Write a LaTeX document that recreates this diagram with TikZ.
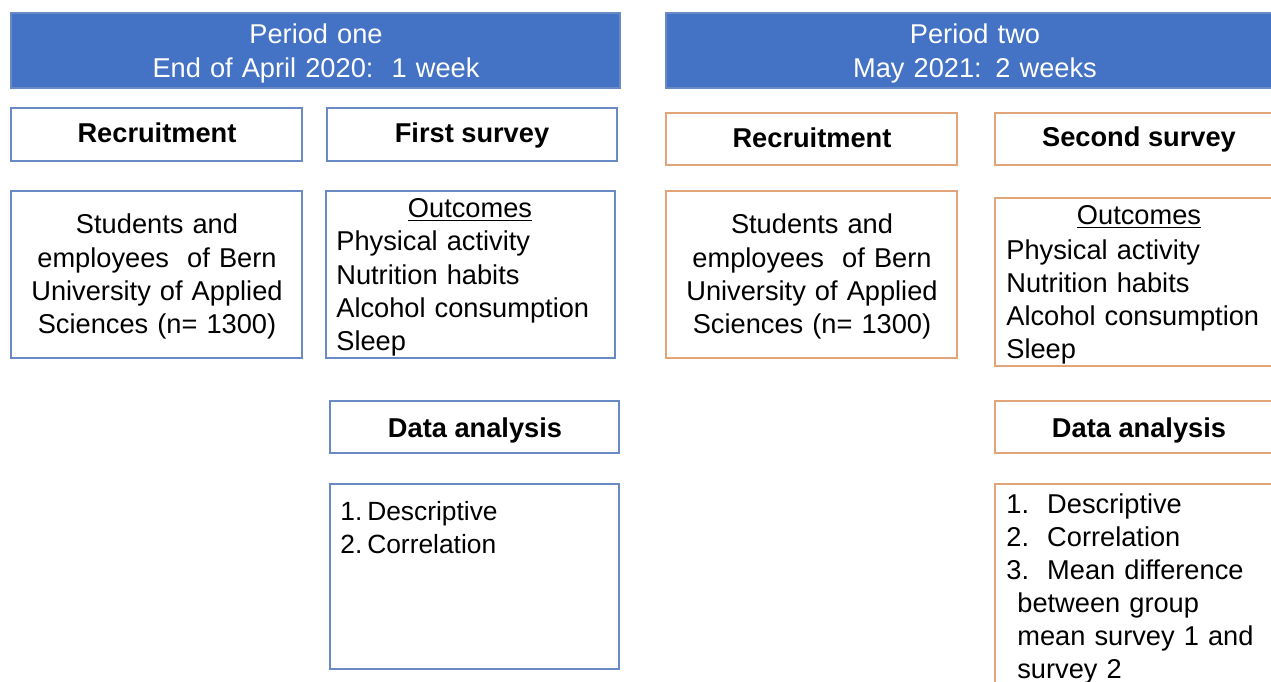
\documentclass[tikz,border=0pt]{standalone}
\usepackage{fontspec}
\setmainfont{Liberation Sans}
\usepackage{tikz}

\definecolor{hdrblue}{HTML}{4472C4}
\definecolor{lineblue}{HTML}{6A8AC6}
\definecolor{lineorange}{HTML}{E2A57A}

\begin{document}
\begin{tikzpicture}[x=0.02cm, y=-0.02cm,
    every node/.style={font=\fontsize{15.5}{18.8}\selectfont, inner sep=0pt},
    header/.style={fill=hdrblue, draw=lineblue, line width=0.6pt},
    bluebox/.style={draw=lineblue, line width=0.6pt},
    orangebox/.style={draw=lineorange, line width=0.6pt},
    title/.style={anchor=base, font=\fontsize{15.5}{18.8}\selectfont\bfseries},
    block/.style={anchor=base west, align=left, text width=#1},
    centerblock/.style={anchor=base, align=center, text width=#1}]

    \useasboundingbox (0,0) rectangle (1271,682);
    \clip (0,0) rectangle (1271,682);

    % period one
    \draw[header] (11,13) rectangle (620,88);
    \node[centerblock=10cm, text=white] (period1) at (316,44)
        {Period one\\End of April 2020:\ \ 1 week};

    \draw[bluebox] (11,108) rectangle (302,161);
    \node[title] (recruit1) at (157,143) {Recruitment};
    \draw[bluebox] (327,108) rectangle (617,161);
    \node[title] (survey1) at (472,143) {First survey};

    \draw[bluebox] (11,191) rectangle (302,358);
    \node[centerblock=5.6cm] (sample1) at (157,234)
        {Students and\\employees\ \ of Bern\\University of Applied\\Sciences (n= 1300)};
    \draw[bluebox] (326,191) rectangle (615,358);
    \node[anchor=base] (outhead1) at (470,218) {\underline{Outcomes}};
    \node[block=5.5cm] (outlist1) at (336,251)
        {Physical activity\\Nutrition habits\\Alcohol consumption\\Sleep};

    \draw[bluebox] (330,401) rectangle (619,453);
    \node[title] (analysis1) at (475,437) {Data analysis};
    \draw[bluebox] (330,484) rectangle (619,669);
    \node[block=5.5cm, font=\fontsize{15}{18.8}\selectfont] (methods1) at (340,520)
        {1.\hspace{0.1cm}Descriptive\\2.\hspace{0.1cm}Correlation};

    % period two
    \draw[header] (666,13) rectangle (1290,88);
    \node[centerblock=10cm, text=white] (period2) at (975,44)
        {Period two\\May 2021: 2 weeks};

    \draw[orangebox] (666,113) rectangle (957,165);
    \node[title] (recruit2) at (812,148) {Recruitment};
    \draw[orangebox] (995,113) rectangle (1290,165);
    \node[title] (survey2) at (1139,147) {Second survey};

    \draw[orangebox] (666,191) rectangle (957,358);
    \node[centerblock=5.6cm] (sample2) at (812,234)
        {Students and\\employees\ \ of Bern\\University of Applied\\Sciences (n= 1300)};
    \draw[orangebox] (995,198) rectangle (1290,366);
    \node[anchor=base] (outhead2) at (1139,225) {\underline{Outcomes}};
    \node[block=5.5cm] (outlist2) at (1006,259)
        {Physical activity\\Nutrition habits\\Alcohol consumption\\Sleep};

    \draw[orangebox] (995,401) rectangle (1290,453);
    \node[title] (analysis2) at (1139,437) {Data analysis};
    \draw[orangebox] (995,484) rectangle (1290,720);
    \node[block=5.5cm] (methods2) at (1006,513)
        {1.\ \ Descriptive\\2.\ \ Correlation\\3.\ \ Mean difference\\
         \hspace*{0.22cm}between group\\\hspace*{0.22cm}mean survey 1 and\\
         \hspace*{0.22cm}survey 2};
\end{tikzpicture}
\end{document}
